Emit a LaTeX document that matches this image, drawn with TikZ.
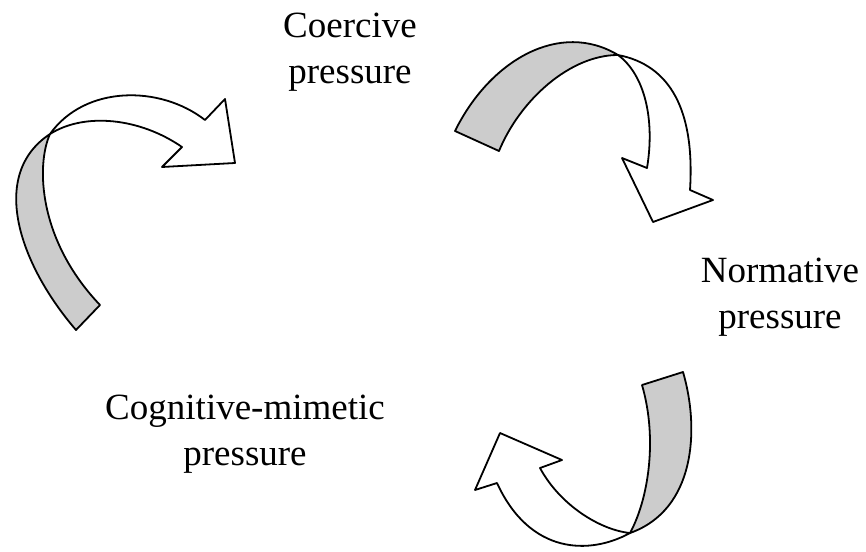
\documentclass[tikz,border=0pt]{standalone}
\usepackage{fontspec}
\setmainfont{Liberation Serif}
\usepackage{tikz}
\usetikzlibrary{positioning}
\usepackage{xcolor}
\definecolor{ribbongray}{gray}{0.8}

\begin{document}
\begin{tikzpicture}[x=1pt,y=-1pt,
  back/.style={draw,fill=ribbongray,line width=1.8pt,line join=round},
  front/.style={draw,fill=white,line width=1.8pt,line join=round},
  lbl/.style={font=\fontsize{37}{46}\selectfont,align=center,inner sep=0pt}]
\useasboundingbox (0,0) rectangle (866,551);
% left arrow, up towards coercive
\draw[back] (76,330) .. controls (20,265) and (-12,175) .. (50,134)
  .. controls (36,165) and (38,240) .. (100,305) -- cycle;
\draw[front] (50,134) .. controls (85,85) and (160,85) .. (205,120)
  -- (225,99) -- (235,163) -- (162,167) -- (182,147)
  .. controls (140,118) and (85,112) .. (50,134) -- cycle;
% top right arrow, down towards normative
\draw[back] (455,131) .. controls (490,60) and (560,20) .. (618,55)
  .. controls (570,55) and (520,100) .. (499,151) -- cycle;
\draw[front] (618,55) .. controls (670,65) and (695,110) .. (690,190)
  -- (713,200) -- (653,222) -- (622,158) -- (647,168)
  .. controls (655,120) and (645,75) .. (618,55) -- cycle;
% bottom arrow, towards cognitive-mimetic
\draw[back] (683,372) .. controls (700,430) and (695,510) .. (630,533)
  .. controls (648,500) and (658,440) .. (642,385) -- cycle;
\draw[front] (630,533) .. controls (590,555) and (530,555) .. (497,483)
  -- (475,490) -- (500,433) -- (562,460) -- (540,468)
  .. controls (560,505) and (600,530) .. (630,533) -- cycle;
% labels
\node[lbl] (coercive) at (350,52) {Coercive\\pressure};
\node[lbl] (normative) at (780,297) {Normative\\pressure};
\node[lbl] (mimetic) at (245,434) {Cognitive-mimetic\\pressure};
\end{tikzpicture}
\end{document}
